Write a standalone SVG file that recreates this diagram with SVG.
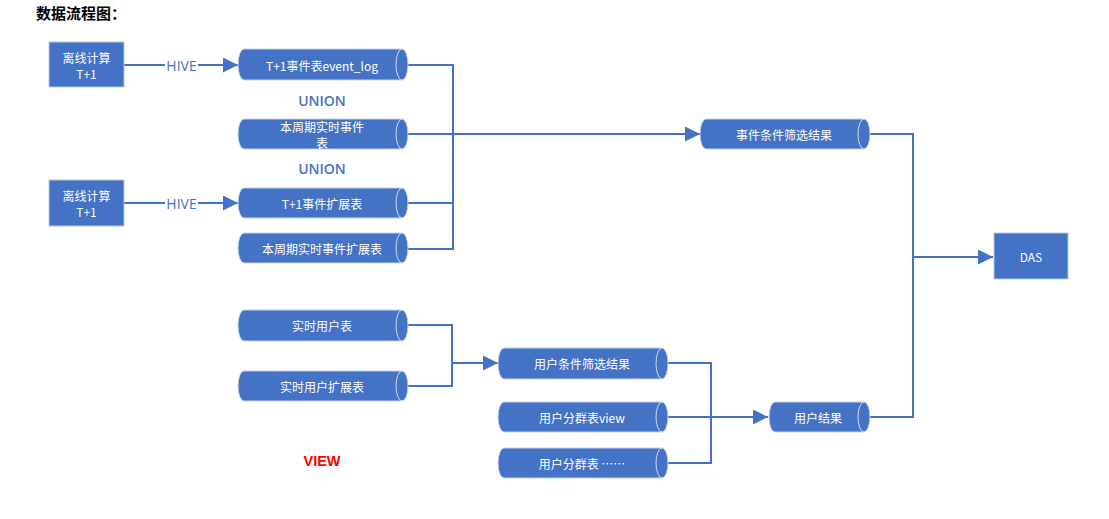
<svg xmlns="http://www.w3.org/2000/svg" width="1109" height="519" viewBox="0 0 1109 519">
<style>
.box{fill:#4472C4;stroke:#b4c7e7;stroke-width:1}
.cyl{fill:#4472C4;stroke:#c5d3ec;stroke-width:1}
.cap{fill:none;stroke:#d0dbef;stroke-width:1}
.t{font-family:"Noto Sans CJK SC","Liberation Sans",sans-serif;font-size:12px;fill:#ffffff;text-anchor:middle;dominant-baseline:central}
.lbl{font-family:"Open Sans","Liberation Sans",sans-serif;font-size:14px;fill:#4472C4;text-anchor:middle;dominant-baseline:central}
.ln{fill:none;stroke:#4472C4;stroke-width:2}
</style>
<defs>
<marker id="arr" markerWidth="15" markerHeight="15" refX="15" refY="7.5" orient="auto" markerUnits="userSpaceOnUse" viewBox="0 0 15 15">
<path d="M0,0 L15,7.5 L0,15 z" fill="#4472C4"/>
</marker>
</defs>
<rect width="1109" height="519" fill="#ffffff"/>
<text x="36" y="19" font-family="Noto Sans CJK SC, Liberation Sans, sans-serif" font-size="15" font-weight="bold" fill="#000000">数据流程图：</text>

<g id="connectors">
<path class="ln" d="M124,65 H165"/>
<path class="ln" d="M198,65 H238" marker-end="url(#arr)"/>
<path class="ln" d="M124,203 H165"/>
<path class="ln" d="M198,203 H238" marker-end="url(#arr)"/>
<path class="ln" d="M408,65 H453 V249 H408"/>
<path class="ln" d="M408,134 H453"/>
<path class="ln" d="M408,203 H453"/>
<path class="ln" d="M453,134 H700" marker-end="url(#arr)"/>
<path class="ln" d="M870,134 H913 V417 H870"/>
<path class="ln" d="M913,257 H993" marker-end="url(#arr)"/>
<path class="ln" d="M408,325 H452 V386 H408"/>
<path class="ln" d="M452,363 H498" marker-end="url(#arr)"/>
<path class="ln" d="M668,363 H711 V463 H668"/>
<path class="ln" d="M668,417 H768" marker-end="url(#arr)"/>
</g>

<g id="offline1">
<rect class="box" x="49" y="42" width="75" height="45"/>
<text class="t" x="86.5" y="57">离线计算</text>
<text class="t" x="86.5" y="73">T+1</text>
</g>
<g id="offline2">
<rect class="box" x="49" y="180" width="75" height="46"/>
<text class="t" x="86.5" y="195">离线计算</text>
<text class="t" x="86.5" y="211">T+1</text>
</g>
<text class="lbl" x="181.5" y="65">HIVE</text>
<text class="lbl" x="181.5" y="203">HIVE</text>
<text class="lbl" x="322" y="100" font-weight="600">UNION</text>
<text class="lbl" x="322" y="168" font-weight="600">UNION</text>
<text x="322" y="461" font-family="Liberation Sans, sans-serif" font-size="14.5" font-weight="bold" fill="#FF0000" text-anchor="middle" dominant-baseline="central">VIEW</text>

<g id="event_log">
<path class="cyl" d="M244,49 H402 A6,15.5 0 0 1 402,80 H244 A6,15.5 0 0 1 244,49 Z"/>
<path class="cap" d="M402,49 A6,15.5 0 0 0 402,80"/>
<text class="t" x="322" y="65">T+1事件表event_log</text>
</g>
<g id="rt_event">
<path class="cyl" d="M244,119 H402 A6,15 0 0 1 402,149 H244 A6,15 0 0 1 244,119 Z"/>
<path class="cap" d="M402,119 A6,15 0 0 0 402,149"/>
<text class="t" x="322" y="126">本周期实时事件</text>
<text class="t" x="322" y="142">表</text>
</g>
<g id="event_ext">
<path class="cyl" d="M244,188 H402 A6,15 0 0 1 402,218 H244 A6,15 0 0 1 244,188 Z"/>
<path class="cap" d="M402,188 A6,15 0 0 0 402,218"/>
<text class="t" x="322" y="203">T+1事件扩展表</text>
</g>
<g id="rt_event_ext">
<path class="cyl" d="M244,233 H402 A6,15 0 0 1 402,263 H244 A6,15 0 0 1 244,233 Z"/>
<path class="cap" d="M402,233 A6,15 0 0 0 402,263"/>
<text class="t" x="322" y="248">本周期实时事件扩展表</text>
</g>
<g id="event_result">
<path class="cyl" d="M706,119 H864 A6,15 0 0 1 864,149 H706 A6,15 0 0 1 706,119 Z"/>
<path class="cap" d="M864,119 A6,15 0 0 0 864,149"/>
<text class="t" x="784" y="134">事件条件筛选结果</text>
</g>
<g id="das">
<rect class="box" x="994" y="233" width="74" height="46"/>
<text class="t" x="1031" y="256">DAS</text>
</g>
<g id="rt_user">
<path class="cyl" d="M244,310 H402 A6,15.5 0 0 1 402,341 H244 A6,15.5 0 0 1 244,310 Z"/>
<path class="cap" d="M402,310 A6,15.5 0 0 0 402,341"/>
<text class="t" x="322" y="325">实时用户表</text>
</g>
<g id="rt_user_ext">
<path class="cyl" d="M244,371 H402 A6,15 0 0 1 402,401 H244 A6,15 0 0 1 244,371 Z"/>
<path class="cap" d="M402,371 A6,15 0 0 0 402,401"/>
<text class="t" x="322" y="386">实时用户扩展表</text>
</g>
<g id="user_filter">
<path class="cyl" d="M504,348 H662 A6,15.5 0 0 1 662,379 H504 A6,15.5 0 0 1 504,348 Z"/>
<path class="cap" d="M662,348 A6,15.5 0 0 0 662,379"/>
<text class="t" x="582" y="363">用户条件筛选结果</text>
</g>
<g id="user_group_view">
<path class="cyl" d="M504,402 H662 A6,15 0 0 1 662,432 H504 A6,15 0 0 1 504,402 Z"/>
<path class="cap" d="M662,402 A6,15 0 0 0 662,432"/>
<text class="t" x="582" y="417">用户分群表view</text>
</g>
<g id="user_group_more">
<path class="cyl" d="M504,448 H662 A6,15 0 0 1 662,478 H504 A6,15 0 0 1 504,448 Z"/>
<path class="cap" d="M662,448 A6,15 0 0 0 662,478"/>
<text class="t" x="582" y="463">用户分群表 ……</text>
</g>
<g id="user_result">
<path class="cyl" d="M775,402 H864 A6,15 0 0 1 864,432 H775 A6,15 0 0 1 775,402 Z"/>
<path class="cap" d="M864,402 A6,15 0 0 0 864,432"/>
<text class="t" x="818" y="417">用户结果</text>
</g>
</svg>
